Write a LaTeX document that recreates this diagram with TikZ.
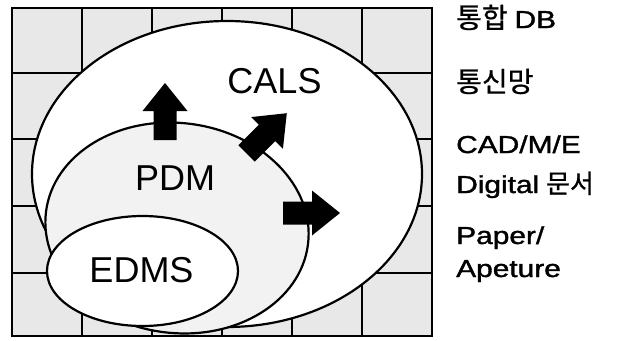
\documentclass[tikz,border=0pt]{standalone}
\usepackage{graphicx}
\usepackage{fontspec}
\setmainfont{Liberation Sans}
\newfontfamily\legendfont{Liberation Sans}[FakeBold=1.3]
\newfontfamily\krfont{Noto Sans CJK KR}[FakeBold=0.8]
% legend text: Arial-like letters set slightly wide
\newcommand{\wide}[1]{\scalebox{1.22}[1]{#1}}
\newcommand{\hangul}[1]{{\krfont\fontsize{28}{30}\selectfont #1}}
\begin{document}
\begin{tikzpicture}[x=1pt,y=-1pt,
  gridline/.style={line width=2.6pt,black},
  cellfill/.style={fill=black!9},
  ring/.style={line width=2.2pt,black},
  biglabel/.style={font=\fontsize{36}{40}\selectfont,inner sep=0pt,anchor=base},
  sidelabel/.style={font=\legendfont\fontsize{24.5}{33}\selectfont,inner sep=0pt,anchor=base west,align=left},
  pics/blockarrow/.style={code={
    \fill[black] (0,-11.5) -- (29,-11.5) -- (29,-22.5) -- (57,0)
      -- (29,22.5) -- (29,11.5) -- (0,11.5) -- cycle;}}
]
\useasboundingbox (0,0) rectangle (621,340);

% tiled background panel
\fill[cellfill] (12,8) rectangle (432,336);
\foreach \gx in {82,152,222,292,362}
  \draw[gridline] (\gx,8) -- (\gx,336);
\foreach \gy in {73,139,206,273}
  \draw[gridline] (12,\gy) -- (432,\gy);
\draw[gridline] (12,8) rectangle (432,336);

% nested scopes: CALS > PDM > EDMS
\draw[ring,fill=white] (227,174) ellipse [x radius=195,y radius=153];
\draw[ring,fill=black!5,rotate around={-7:(177,228)}] (177,228) ellipse [x radius=132,y radius=105];
\draw[ring,fill=white] (142.5,271) ellipse [x radius=95.5,y radius=55];

% expansion arrows
\pic[rotate=90] at (165,140) {blockarrow};
\pic[rotate=45] at (246.5,153.5) {blockarrow};
\pic at (283,213) {blockarrow};

% scope labels
\node[biglabel] (cals) at (274.5,93) {CALS};
\node[biglabel] (pdm) at (175,190) {PDM};
\node[biglabel] (edms) at (141.5,282) {EDMS};

% layer legend
\node[sidelabel] (db) at (456,28) {\hangul{통합} \wide{DB}};
\node[sidelabel] (net) at (456,92) {\hangul{통신망}};
\node[sidelabel] (cad) at (456,153) {\wide{CAD/M/E}};
\node[sidelabel] (doc) at (456,193) {\wide{Digital} {\krfont\fontsize{26}{30}\selectfont 문서}};
\node[sidelabel] (paper) at (456,277) {\wide{Paper/}\\\wide{Apeture}};
\end{tikzpicture}
\end{document}
